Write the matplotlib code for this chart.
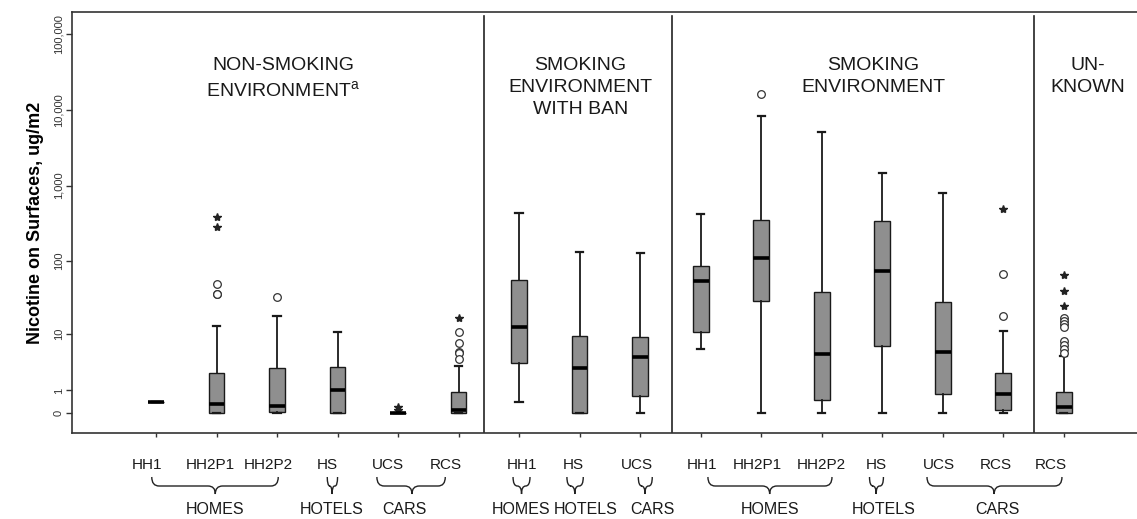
import numpy as np
import matplotlib.pyplot as plt
import matplotlib.transforms as mtransforms
from matplotlib.path import Path
from matplotlib.patches import PathPatch

plt.rcParams['font.family'] = ['Liberation Sans', 'DejaVu Sans']

# data (ug/m2)
categories = ["HH1", "HH2P1", "HH2P2", "HS", "UCS", "RCS",
              "HH1", "HS", "UCS",
              "HH1", "HH2P1", "HH2P2", "HS", "UCS", "RCS",
              "RCS"]
whislo = [0.41, 0, 0, 0, 0, 0, 0.40, 0, 0, 5.97, 0, 0, 0, 0, 0, 0]
q1 = [0.41, 0, 0.03, 0, 0, 0, 3.56, 0.02, 0.71, 10.7, 29.2, 0.51, 6.78, 0.78, 0.105, 0]
med = [0.41, 0.34, 0.24, 1.01, 0, 0.115, 12.8, 2.99, 4.57, 54.3, 111, 4.99, 74, 5.48, 0.78, 0.2]
q3 = [0.41, 2.37, 2.99, 3.11, 0, 0.89, 56, 9.5, 9.0, 85.5, 355, 38.3, 341, 28.3, 2.43, 0.93]
whishi = [0.41, 13.0, 18.1, 10.7, 0, 3.24, 430, 131, 127, 426, 8340, 5130, 1465, 791, 11.25, 4.69]
circle_outliers = [[], [49, 36, 36.5], [33.4], [], [], [10.9, 7.4, 5.5, 5.2, 4.2],
                   [], [], [],
                   [], [16250], [], [], [], [67.4, 18.3],
                   [16.9, 15.4, 14.0, 12.6, 8.05, 6.94, 5.97, 5.17]]
star_outliers = [[], [389, 287], [], [], [0.22, 0.1], [16.9],
                 [], [], [],
                 [], [], [], [], [], [486],
                 [65.4, 40.2, 25.2]]

yticks = [0, 1, 10, 100, 1000, 10000, 100000]
ytick_labels = ["0", "1", "10", "100", "1,000", "10,000", "100,000"]

panel_titles = ["NON-SMOKING\nENVIRONMENT$^{\\mathregular{a}}$",
                "SMOKING\nENVIRONMENT\nWITH BAN",
                "SMOKING\nENVIRONMENT",
                "UN-\nKNOWN"]
panel_title_x = [3.1, 8.01, 12.85, 16.4]
dividers = [6.42, 9.53, 15.51]

# label placement (x in category units)
label_x = [0.85, 1.89, 2.85, 3.83, 4.83, 5.79, 7.05, 7.9, 8.95,
           10.02, 10.93, 11.99, 12.9, 13.93, 14.87, 15.78]
# (left, right, tip, label_x, label)
braces = [(0.93, 3.02, 1.98, 1.98, "HOMES"),
          (3.83, 4.0, 3.91, 3.91, "HOTELS"),
          (4.65, 5.78, 5.23, 5.1, "CARS"),
          (6.9, 7.18, 7.04, 7.03, "HOMES"),
          (7.79, 8.06, 7.92, 8.1, "HOTELS"),
          (8.97, 9.2, 9.08, 9.2, "CARS"),
          (10.12, 12.17, 11.14, 11.15, "HOMES"),
          (12.79, 13.02, 12.9, 13.02, "HOTELS"),
          (13.74, 15.97, 14.85, 14.9, "CARS")]

positions = np.arange(1, len(categories) + 1)

fig = plt.figure(figsize=(11.37, 5.19), dpi=100)
ax = fig.add_axes([72 / 1137, 1 - 433 / 519, 1 - 72 / 1137, (433 - 12) / 519])

ax.set_yscale('function', functions=(lambda v: np.log10(np.clip(v, -0.999, None) + 1),
                                     lambda t: 10 ** t - 1))

stats = []
for i in range(len(categories)):
    stats.append({"med": med[i], "q1": q1[i], "q3": q3[i],
                  "whislo": whislo[i], "whishi": whishi[i], "fliers": []})

ax.bxp(stats, positions=positions, widths=0.26, capwidths=0.12,
       patch_artist=True, showfliers=False,
       boxprops=dict(facecolor='#8f8f8f', edgecolor='#1a1a1a', linewidth=1.0),
       medianprops=dict(color='black', linewidth=2.6),
       whiskerprops=dict(color='#1a1a1a', linewidth=1.3),
       capprops=dict(color='#1a1a1a', linewidth=1.6))

for p, c, s in zip(positions, circle_outliers, star_outliers):
    if c:
        ax.plot([p] * len(c), c, linestyle='none', marker='o', markersize=5.5,
                markerfacecolor='white', markeredgecolor='#333333', markeredgewidth=0.9)
    if s:
        ax.plot([p] * len(s), s, linestyle='none', marker='*', markersize=6,
                color='#222222')

for d in dividers:
    ax.axvline(d, ymin=0, ymax=0.99, color='#222222', linewidth=1.2)

xa = mtransforms.blended_transform_factory(ax.transData, ax.transAxes)
for t, x in zip(panel_titles, panel_title_x):
    ax.text(x, 0.893, t, transform=xa, ha='center', va='top', fontsize=14,
            color='#1a1a1a', linespacing=1.38)

ax.set_xlim(-0.388, 17.21)
ax.set_ylim(-0.45, 1.94e5)
ax.set_yticks(yticks)
ax.set_yticklabels(ytick_labels, rotation=90, va='center', fontsize=8, color='#333333')
ax.yaxis.set_minor_locator(plt.NullLocator())
ax.set_xticks(positions)
ax.set_xticklabels([])
ax.tick_params(axis='x', length=3, width=1, color='#333333', direction='out')
ax.tick_params(axis='y', length=4, width=1, color='#333333', direction='out', pad=2)
ax.spines['right'].set_visible(False)
for sp in ['left', 'top', 'bottom']:
    ax.spines[sp].set_color('#333333')
    ax.spines[sp].set_linewidth(1.2)

ax.set_ylabel("Nicotine on Surfaces, ug/m2", fontsize=13, fontweight='bold', labelpad=7)

blend = mtransforms.blended_transform_factory(ax.transData, fig.transFigure)
y_lab = 1 - 465 / 519
y_top = 1 - 477 / 519
y_mid = 1 - 486 / 519
y_bot = 1 - 494 / 519
y_grp = 1 - 510 / 519

for x, lab in zip(label_x, categories):
    ax.text(x, y_lab, lab, transform=blend, ha='center', va='center', fontsize=11,
            color='#1a1a1a', clip_on=False)

for x0, x1, xc, lx, lab in braces:
    r = min(0.12, (x1 - x0) / 4)
    verts = [(x0, y_top), (x0, y_mid), (x0 + r, y_mid), (xc - r, y_mid),
             (xc, y_mid), (xc, y_bot), (xc, y_mid), (xc + r, y_mid),
             (x1 - r, y_mid), (x1, y_mid), (x1, y_top)]
    codes = [Path.MOVETO, Path.CURVE3, Path.CURVE3, Path.LINETO,
             Path.CURVE3, Path.CURVE3, Path.CURVE3, Path.CURVE3,
             Path.LINETO, Path.CURVE3, Path.CURVE3]
    ax.add_patch(PathPatch(Path(verts, codes), transform=blend, fill=False,
                           edgecolor='#222222', linewidth=1.0, clip_on=False))
    ax.text(lx, y_grp, lab, transform=blend, ha='center', va='center', fontsize=11.5,
            color='#1a1a1a', clip_on=False)

fig.savefig("out.png", dpi=100)
